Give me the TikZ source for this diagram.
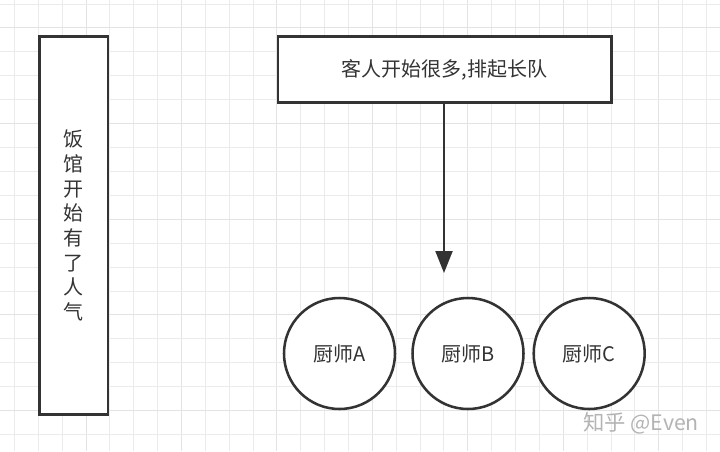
\documentclass[tikz,border=0pt]{standalone}
\usepackage{fontspec}
\setmainfont{Noto Sans CJK SC}
\usetikzlibrary{arrows.meta}
\definecolor{lineC}{HTML}{333333}
\definecolor{txtC}{HTML}{333333}
\definecolor{gridMinor}{HTML}{EBEBEB}
\definecolor{gridMajor}{HTML}{E3E3E3}
\definecolor{wmC}{HTML}{B4B4B4}
\begin{document}
\begin{tikzpicture}[x=0.75pt,y=-0.75pt,
  boxshape/.style={draw=lineC, line width=2.2pt, fill=white, rectangle, inner sep=0pt, text=txtC},
  chef/.style={draw=lineC, line width=1.9pt, fill=white, circle, inner sep=0pt, minimum size=83.25pt, text=txtC, font=\fontsize{15}{18}\selectfont},
  conn/.style={draw=lineC, line width=1.6pt, -{Triangle[length=16.5pt, width=12.75pt]}},
  gminor/.style={draw=gridMinor, line width=0.75pt},
  gmajor/.style={draw=gridMajor, line width=0.75pt}]
\useasboundingbox[fill=white] (0,0) rectangle (720,451);
% grid (snapped to pixel centres)
\foreach \i in {0,...,29} {
  \pgfmathtruncatemacro{\m}{mod(\i-3+40,4)}
  \pgfmathsetmacro{\gx}{round(14+23.86*\i)+0.5}
  \ifnum\m=0
    \draw[gmajor] (\gx,0) -- (\gx,451);
  \else
    \draw[gminor] (\gx,0) -- (\gx,451);
  \fi
}
\foreach \j in {0,...,18} {
  \pgfmathtruncatemacro{\m}{mod(\j-1+40,4)}
  \pgfmathsetmacro{\gy}{round(3.5+23.92*\j)+0.5}
  \ifnum\m=0
    \draw[gmajor] (0,\gy) -- (720,\gy);
  \else
    \draw[gminor] (0,\gy) -- (720,\gy);
  \fi
}
% left box
\node[boxshape, minimum width=51.2pt, minimum height=283.9pt, align=center,
      font=\fontsize{15}{18.5}\selectfont] (left) at (73.85,225.55)
  {饭\\馆\\开\\始\\有\\了\\人\\气};
% top box
\node[boxshape, minimum width=250pt, minimum height=49.5pt,
      font=\fontsize{15}{18}\selectfont] (top) at (444.65,69.7) {客人开始很多,排起长队};
% chefs
\node[chef] (a) at (339.5,353.5) {厨师A};
\node[chef] (b) at (468,353.5) {厨师B};
\node[chef] (c) at (589.2,353.5) {厨师C};
% arrow
\coordinate (tip) at (444,273);
\draw[conn] (top.south -| tip) -- (tip);
% watermark
\node[text=wmC, font=\fontsize{16}{19}\selectfont, inner sep=0pt] (wm) at (641,423) {知乎 @Even};
\end{tikzpicture}
\end{document}
